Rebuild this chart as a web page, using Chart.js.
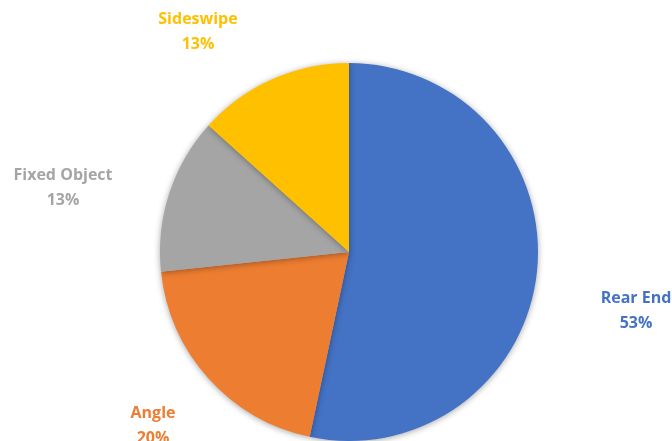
<!DOCTYPE html>
<html>
<head>
<meta charset="utf-8">
<script src="https://cdn.jsdelivr.net/npm/chart.js@4"></script>
<style>
  html, body { margin: 0; padding: 0; background: #fff; }
  #wrap { width: 672px; height: 441px; }
</style>
</head>
<body>
<div id="wrap"><canvas id="crashPie"></canvas></div>
<script>
// crash types, counts
const crashTypes = ['Rear End', 'Angle', 'Fixed Object', 'Sideswipe'];
const crashCounts = [8, 3, 2, 2];
const sliceColors = ['#4472C4', '#ED7D31', '#A5A5A5', '#FFC000'];

// where each label block sits (centre of the two lines)
const labelSpots = [
  { x: 636, y: 310 },
  { x: 153, y: 425 },
  { x: 63, y: 187 },
  { x: 198, y: 31 }
];

const total = crashCounts.reduce((a, b) => a + b, 0);

// soft halo under the pie
const pieShadow = {
  id: 'pieShadow',
  beforeDatasetsDraw(chart) {
    const ctx = chart.ctx;
    ctx.save();
    ctx.shadowColor = 'rgba(0,0,0,0.35)';
    ctx.shadowBlur = 6;
    ctx.shadowOffsetX = 0;
    ctx.shadowOffsetY = 1;
  },
  afterDatasetsDraw(chart) {
    chart.ctx.restore();
  }
};

// category name + percent, coloured like the slice
const sliceLabels = {
  id: 'sliceLabels',
  afterDraw(chart) {
    const ctx = chart.ctx;
    ctx.save();
    ctx.font = 'bold 16px "Open Sans", "Liberation Sans", sans-serif';
    ctx.textAlign = 'center';
    ctx.textBaseline = 'middle';
    crashTypes.forEach((name, i) => {
      const pct = Math.round(crashCounts[i] / total * 100) + '%';
      const spot = labelSpots[i];
      ctx.fillStyle = sliceColors[i];
      ctx.fillText(name, spot.x, spot.y - 12);
      ctx.fillText(pct, spot.x, spot.y + 13);
    });
    ctx.restore();
  }
};

new Chart(document.getElementById('crashPie'), {
  type: 'pie',
  data: {
    labels: crashTypes,
    datasets: [{
      data: crashCounts,
      backgroundColor: sliceColors,
      borderWidth: 0
    }]
  },
  options: {
    responsive: true,
    maintainAspectRatio: false,
    animation: false,
    layout: {
      padding: { top: 63, bottom: 0, left: 160, right: 134 }
    },
    plugins: {
      legend: { display: false },
      tooltip: { enabled: false }
    }
  },
  plugins: [pieShadow, sliceLabels]
});
</script>
</body>
</html>
